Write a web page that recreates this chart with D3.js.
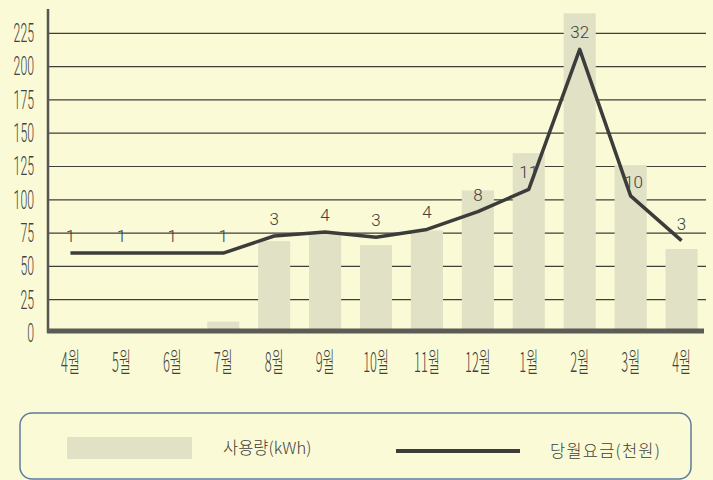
<!DOCTYPE html>
<html>
<head>
<meta charset="utf-8">
<script src="https://cdn.jsdelivr.net/npm/d3@7"></script>
<style>
body{margin:0;background:#fafad7;}
svg{display:block}
</style>
</head>
<body>
<svg width="713" height="480"></svg>
<script>
var months = ['4월','5월','6월','7월','8월','9월','10월','11월','12월','1월','2월','3월','4월']
var usage = [0,0,0,8.5,69,75,66,77,107,135,240,126,63]          // 사용량(kWh)
var charge = [1,1,1,1,3.6,4.2,3.4,4.6,7.3,10.7,32,9.7,2.9]      // 당월요금(천원)
var chargeLabels = [1,1,1,1,3,4,3,4,8,11,32,10,3]
var yTicks = [0,25,50,75,100,125,150,175,200,225]

var svg = d3.select('svg'),
    width = 713,
    height = 480,
    textColor = '#40403d'

var x = d3.scaleBand()
    .domain(d3.range(months.length))
    .range([45, 707])
    .paddingInner(0.37)
    .paddingOuter(0.185)

var y = d3.scaleLinear().domain([0, 225]).range([333, 33.3])
// hidden secondary scale for the charge line
var y2 = d3.scaleLinear().domain([-11.16, 34.44]).range([333, 33.3])

// gridlines
svg.append('g')
    .selectAll('line')
    .data(yTicks.filter(d=>d>0))
    .enter().append('line')
    .attr('x1', 48).attr('x2', 706)
    .attr('y1', d=>y(d)).attr('y2', d=>y(d))
    .attr('stroke', '#3e3e3a')
    .attr('stroke-width', 1.2)

// bars
svg.append('g')
    .selectAll('rect')
    .data(usage)
    .enter().append('rect')
    .attr('x', (d,i)=>x(i))
    .attr('width', x.bandwidth())
    .attr('y', d=>y(d))
    .attr('height', d=>y(0) - y(d))
    .attr('fill', '#e0e1c5')

// axes lines
svg.append('line')
    .attr('x1', 48).attr('x2', 48)
    .attr('y1', 9).attr('y2', 333)
    .attr('stroke', '#555551').attr('stroke-width', 2.5)
svg.append('line')
    .attr('x1', 47).attr('x2', 704)
    .attr('y1', 331).attr('y2', 331)
    .attr('stroke', '#5b5b57').attr('stroke-width', 5)

// y tick labels
var yAxis = svg.append('g')
    .attr('transform', 'translate(34,0)')
    .call(d3.axisLeft(y).tickValues(yTicks).tickSize(0).tickPadding(0))
yAxis.select('.domain').remove()
yAxis.selectAll('text')
    .attr('font-family', 'Roboto, "Liberation Sans", sans-serif')
    .attr('font-weight', 300)
    .attr('font-size', 26)
    .attr('fill', textColor)
    .attr('textLength', function(d){ return String(d).length * 6.8 })
    .attr('lengthAdjust', 'spacingAndGlyphs')

// x tick labels
var xAxis = svg.append('g')
    .attr('transform', 'translate(0,350)')
    .call(d3.axisBottom(x).tickFormat(i=>months[i]).tickSize(0).tickPadding(0))
xAxis.select('.domain').remove()
xAxis.selectAll('text')
    .attr('font-family', '"Noto Sans CJK KR", sans-serif')
    .attr('font-weight', 300)
    .attr('font-size', 27)
    .attr('fill', textColor)
    .attr('dy', '0.8em')
    .attr('textLength', i=>(months[i].length - 1) * 6.8 + 12)
    .attr('lengthAdjust', 'spacingAndGlyphs')

// charge line
var line = d3.line()
    .x((d,i)=>x(i) + x.bandwidth()/2)
    .y(d=>y2(d))

svg.append('path')
    .datum(charge)
    .attr('d', line)
    .attr('fill', 'none')
    .attr('stroke', '#3c3c3a')
    .attr('stroke-width', 3.5)
    .attr('stroke-linejoin', 'round')

// value labels
svg.append('g')
    .selectAll('text')
    .data(charge)
    .enter().append('text')
    .attr('x', (d,i)=>x(i) + x.bandwidth()/2 + (i==11 ? 3 : 0))
    .attr('y', (d,i)=>y2(d) - (i==11 ? 8 : 11))
    .attr('text-anchor', 'middle')
    .attr('font-family', 'Roboto, "Liberation Sans", sans-serif')
    .attr('font-weight', 300)
    .attr('font-size', 17)
    .attr('fill', textColor)
    .text((d,i)=>chargeLabels[i])

// legend
var legend = svg.append('g')
legend.append('rect')
    .attr('x', 20).attr('y', 413)
    .attr('width', 671).attr('height', 66)
    .attr('rx', 12)
    .attr('fill', 'none')
    .attr('stroke', '#5f7c9e')
    .attr('stroke-width', 1.5)
legend.append('rect')
    .attr('x', 67).attr('y', 437)
    .attr('width', 125).attr('height', 22)
    .attr('fill', '#e0e1c5')
legend.append('text')
    .attr('x', 223).attr('y', 454)
    .attr('font-family', '"Noto Sans CJK KR", sans-serif')
    .attr('font-weight', 300)
    .attr('font-size', 16.5)
    .attr('fill', textColor)
    .text('사용량(kWh)')
legend.append('line')
    .attr('x1', 396).attr('x2', 520)
    .attr('y1', 451).attr('y2', 451)
    .attr('stroke', '#3c3c3a')
    .attr('stroke-width', 4)
legend.append('text')
    .attr('x', 550).attr('y', 457)
    .attr('font-family', '"Noto Sans CJK KR", sans-serif')
    .attr('font-weight', 300)
    .attr('font-size', 16.5)
    .attr('letter-spacing', 1.2)
    .attr('fill', textColor)
    .text('당월요금(천원)')
</script>
</body>
</html>
